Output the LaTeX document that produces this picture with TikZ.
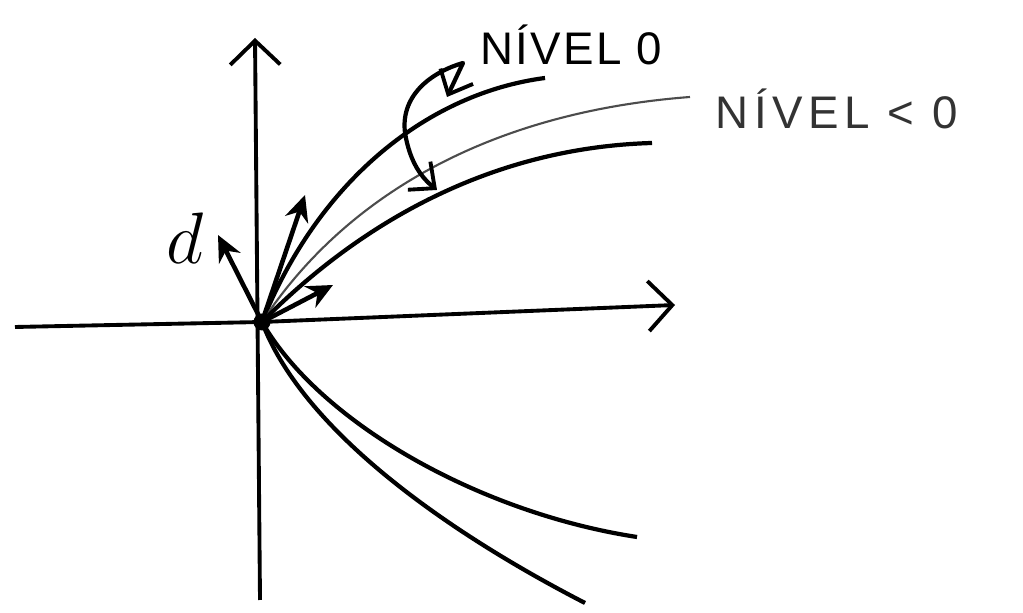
\documentclass[tikz,border=0pt]{standalone}
\usepackage{fontspec}
\setmainfont{Liberation Sans}
\usetikzlibrary{arrows.meta}
\tikzset{
    eixo/.style={line width=1.1pt,-{Straight Barb[length=2.4mm,width=5mm,line width=1.1pt]}},
    curva/.style={line width=1.2pt},
    curvafina/.style={line width=0.6pt,black!70},
    vetor/.style={line width=1.3pt,-{Stealth[length=2.6mm,width=2.4mm]}},
    giro/.style={line width=1.2pt,{Straight Barb[length=2mm,width=3.6mm,line width=1.1pt]}-{Straight Barb[length=2mm,width=3.6mm,line width=1.1pt]}},
    rotulo/.style={font=\fontsize{13}{16}\selectfont,inner sep=0pt}
}
\begin{document}
\begin{tikzpicture}
    \useasboundingbox (0,0) rectangle (10.23,6.13);
    % origem e pontas
    \coordinate (O) at (2.62,2.91);
    \coordinate (ybaixo) at (2.60,0.13);
    \coordinate (ytopo) at (2.55,5.75);
    \coordinate (xesq) at (0.15,2.86);
    \coordinate (xdir) at (6.75,3.08);
    \coordinate (fimA) at (5.45,5.35);
    \coordinate (fimB) at (6.90,5.16);
    \coordinate (fimC) at (6.52,4.70);
    \coordinate (fimD) at (6.37,0.76);
    \coordinate (fimE) at (5.85,0.10);
    \coordinate (vesq) at (2.18,3.78);
    \coordinate (vcima) at (3.05,4.18);
    \coordinate (vdir) at (3.33,3.28);
    \coordinate (giroA) at (4.47,5.16);
    \coordinate (giroC) at (4.37,4.23);
    % eixos
    \draw[eixo] (ybaixo) -- (ytopo);
    \draw[eixo] (xesq) -- (O) -- (xdir);
    % curvas de nivel
    \draw[curva] (O) .. controls (3.2,4.35) and (4.3,5.2) .. (fimA);
    \draw[curvafina] (O) .. controls (3.4,4.1) and (4.8,5.0) .. (fimB);
    \draw[curva] (O) .. controls (3.5,3.8) and (4.8,4.65) .. (fimC);
    \draw[curva] (O) .. controls (3.2,1.9) and (4.8,1.0) .. (fimD);
    \draw[curva] (O) .. controls (3.0,1.9) and (4.3,0.9) .. (fimE);
    % vetores
    \draw[vetor] (O) -- (vesq);
    \draw[vetor] (O) -- (vcima);
    \draw[vetor] (O) -- (vdir);
    \fill (O) circle (0.085);
    % giro entre niveis
    \draw[giro,line join=round] (giroA) -- (4.63,5.50) .. controls (4.35,5.42) and (4.0,5.2) .. (4.05,4.80)
        .. controls (4.1,4.5) and (4.22,4.35) .. (giroC);
    % textos
    \node[font=\fontsize{22}{24}\selectfont,inner sep=0pt] (d) at (1.85,3.75) {$d$};
    \node[rotulo,anchor=west] (nivelzero) at (4.80,5.68) {\addfontfeatures{LetterSpace=5}NÍVEL 0};
    \node[rotulo,anchor=west,black!80] (nivelneg) at (7.15,5.04) {\addfontfeatures{LetterSpace=12}NÍVEL < 0};
\end{tikzpicture}
\end{document}
